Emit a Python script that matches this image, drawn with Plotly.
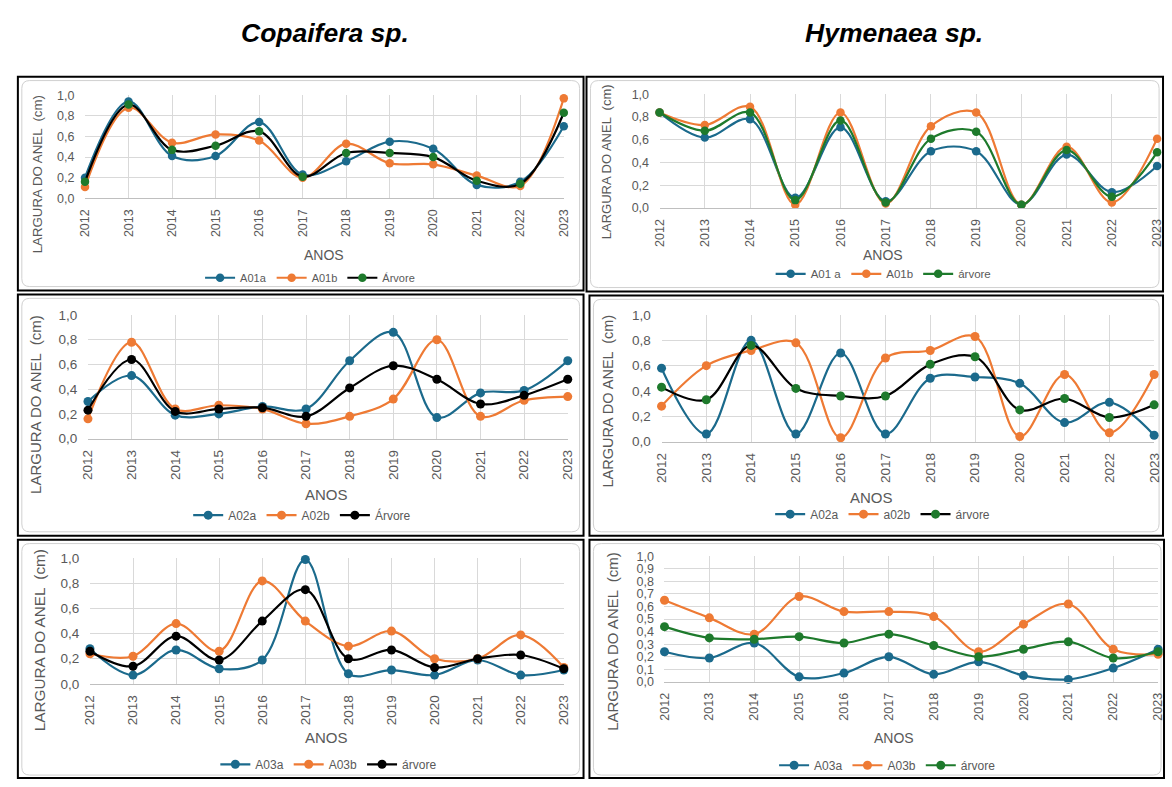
import plotly.graph_objects as go

# ---------------- data ----------------
YEARS = [2012, 2013, 2014, 2015, 2016, 2017, 2018, 2019, 2020, 2021, 2022, 2023]
YEAR_LABELS = [str(y) for y in YEARS]

Y_TICKS_STEP02 = [0.0, 0.2, 0.4, 0.6, 0.8, 1.0]
Y_TICKTEXT_STEP02 = ["0,0", "0,2", "0,4", "0,6", "0,8", "1,0"]
Y_TICKS_STEP01 = [0.0, 0.1, 0.2, 0.3, 0.4, 0.5, 0.6, 0.7, 0.8, 0.9, 1.0]
Y_TICKTEXT_STEP01 = ["0,0", "0,1", "0,2", "0,3", "0,4", "0,5", "0,6", "0,7", "0,8", "0,9", "1,0"]

SPECIES = ["Copaifera sp.", "Hymenaea sp."]
X_TITLE = "ANOS"
Y_TITLE = "LARGURA DO ANEL  (cm)"

# Copaifera - tree 01
cop_a01a = [0.20, 0.94, 0.41, 0.41, 0.74, 0.23, 0.36, 0.55, 0.48, 0.13, 0.16, 0.70]
cop_a01b = [0.11, 0.88, 0.54, 0.62, 0.56, 0.20, 0.53, 0.34, 0.33, 0.22, 0.12, 0.97]
cop_a01_tree = [0.16, 0.91, 0.47, 0.51, 0.65, 0.21, 0.44, 0.44, 0.40, 0.17, 0.14, 0.83]
# Hymenaea - tree 01
hym_a01a = [0.84, 0.62, 0.78, 0.09, 0.71, 0.06, 0.50, 0.50, 0.03, 0.47, 0.14, 0.37]
hym_a01b = [0.84, 0.73, 0.89, 0.03, 0.84, 0.04, 0.72, 0.84, 0.03, 0.54, 0.05, 0.61]
hym_a01_tree = [0.84, 0.68, 0.84, 0.07, 0.77, 0.05, 0.61, 0.67, 0.03, 0.51, 0.10, 0.49]
# Copaifera - tree 02
cop_a02a = [0.30, 0.51, 0.19, 0.20, 0.26, 0.24, 0.63, 0.86, 0.17, 0.37, 0.39, 0.63]
cop_a02b = [0.16, 0.78, 0.24, 0.27, 0.24, 0.12, 0.18, 0.32, 0.80, 0.18, 0.31, 0.34]
cop_a02_tree = [0.23, 0.64, 0.22, 0.24, 0.25, 0.18, 0.41, 0.59, 0.48, 0.28, 0.35, 0.48]
# Hymenaea - tree 02
hym_a02a = [0.58, 0.06, 0.80, 0.06, 0.70, 0.06, 0.50, 0.51, 0.46, 0.15, 0.31, 0.05]
hym_a02b = [0.28, 0.60, 0.72, 0.78, 0.03, 0.66, 0.72, 0.83, 0.04, 0.53, 0.07, 0.53]
hym_a02_tree = [0.43, 0.33, 0.76, 0.42, 0.36, 0.36, 0.61, 0.67, 0.25, 0.34, 0.19, 0.29]
# Copaifera - tree 03
cop_a03a = [0.28, 0.07, 0.27, 0.12, 0.19, 0.99, 0.08, 0.11, 0.07, 0.19, 0.07, 0.11]
cop_a03b = [0.24, 0.22, 0.48, 0.26, 0.82, 0.50, 0.30, 0.42, 0.20, 0.20, 0.39, 0.13]
cop_a03_tree = [0.26, 0.14, 0.38, 0.19, 0.50, 0.75, 0.20, 0.27, 0.13, 0.20, 0.23, 0.12]
# Hymenaea - tree 03
hym_a03a = [0.24, 0.19, 0.31, 0.04, 0.07, 0.20, 0.06, 0.16, 0.05, 0.02, 0.11, 0.26]
hym_a03b = [0.65, 0.51, 0.38, 0.68, 0.56, 0.56, 0.52, 0.24, 0.46, 0.62, 0.26, 0.22]
hym_a03_tree = [0.44, 0.35, 0.34, 0.36, 0.31, 0.38, 0.29, 0.20, 0.26, 0.32, 0.19, 0.24]

# ---------------- style ----------------
W, H = 1172, 787
BLUE = "#1B6A8C"
ORANGE = "#EE7A34"
GREEN = "#1E7A2C"
BLACK = "#000000"
GRID = "#D9D9D9"
TXT = "#595959"
FONT = "Liberation Sans, Arial, sans-serif"


def px_x(v):
    return v / W


def px_y(v):
    return 1 - v / H


def cx(v):
    return min(max(v, 1), W - 1)


def cy(v):
    return min(max(v, 1), H - 1)


panels = [
    dict(series=[("A01a", cop_a01a, BLUE, BLUE), ("A01b", cop_a01b, ORANGE, ORANGE),
                 ("Árvore", cop_a01_tree, BLACK, GREEN)],
         plot=(78, 563, 90, 195), box=(10, 583, 71, 289), ticks="02",
         ytitle=(30, 171, 13.3), xtitle=(320, 253), legend=(306, 276),
         tick_fs=12.5, leg_fs=11, msize=8.5),
    dict(series=[("A01 a", hym_a01a, BLUE, BLUE), ("A01b", hym_a01b, ORANGE, ORANGE),
                 ("árvore", hym_a01_tree, GREEN, GREEN)],
         plot=(660, 1164, 89, 205), box=(586, 1170, 71, 290), ticks="02",
         ytitle=(607, 158, 13), xtitle=(886, 253), legend=(887, 272),
         tick_fs=12.5, leg_fs=11.5, msize=8.5),
    dict(series=[("A02a", cop_a02a, BLUE, BLUE), ("A02b", cop_a02b, ORANGE, ORANGE),
                 ("Árvore", cop_a02_tree, BLACK, BLACK)],
         plot=(81, 567, 314, 440), box=(10, 583, 293, 539), ticks="02",
         ytitle=(28, 405, 15), xtitle=(323, 497), legend=(298, 518),
         tick_fs=13.5, leg_fs=12, msize=9),
    dict(series=[("A02a", hym_a02a, BLUE, BLUE), ("a02b", hym_a02b, ORANGE, ORANGE),
                 ("árvore", hym_a02_tree, BLACK, GREEN)],
         plot=(662, 1161, 314, 443), box=(589, 1170, 294, 539), ticks="02",
         ytitle=(608, 402, 14.5), xtitle=(875, 500), legend=(886, 517),
         tick_fs=13.5, leg_fs=12, msize=9),
    dict(series=[("A03a", cop_a03a, BLUE, BLUE), ("A03b", cop_a03b, ORANGE, ORANGE),
                 ("árvore", cop_a03_tree, BLACK, BLACK)],
         plot=(83, 563, 562, 690), box=(10, 583, 543, 787), ticks="02",
         ytitle=(32, 646, 15.3), xtitle=(323, 745), legend=(325, 772),
         tick_fs=13.5, leg_fs=12, msize=9),
    dict(series=[("A03a", hym_a03a, BLUE, BLUE), ("A03b", hym_a03b, ORANGE, ORANGE),
                 ("árvore", hym_a03_tree, GREEN, GREEN)],
         plot=(665, 1165, 560, 688), box=(589, 1172, 543, 787), ticks="01",
         ytitle=(613, 647, 15), xtitle=(897, 745), legend=(891, 773),
         tick_fs=12.5, leg_fs=12, msize=9),
]

fig = go.Figure()
layout = dict(width=W, height=H, autosize=False, margin=dict(l=0, r=0, t=0, b=0, pad=0),
              paper_bgcolor="white", plot_bgcolor="white",
              font=dict(family=FONT, color=TXT), showlegend=True)
annotations = []
shapes = []

for i, p in enumerate(panels):
    n = i + 1
    xa = "xaxis" if n == 1 else f"xaxis{n}"
    ya = "yaxis" if n == 1 else f"yaxis{n}"
    xr = "x" if n == 1 else f"x{n}"
    yr = "y" if n == 1 else f"y{n}"
    lg = "legend" if n == 1 else f"legend{n}"
    x0, x1, yt, yb = p["plot"]
    for name, vals, lc, mc in p["series"]:
        fig.add_trace(go.Scatter(
            x=YEARS, y=vals, name=name, mode="lines+markers",
            line=dict(color=lc, width=2.2, shape="spline", smoothing=1.0),
            marker=dict(color=mc, size=p["msize"]),
            xaxis=xr, yaxis=yr, legend=lg, cliponaxis=False))
    tv, tt = (Y_TICKS_STEP02, Y_TICKTEXT_STEP02) if p["ticks"] == "02" else (Y_TICKS_STEP01, Y_TICKTEXT_STEP01)
    layout[xa] = dict(domain=[px_x(x0), px_x(x1)], anchor=yr, range=[YEARS[0], YEARS[-1]],
                      tickvals=YEARS, ticktext=YEAR_LABELS, tickangle=-90,
                      showgrid=True, gridcolor=GRID, gridwidth=1,
                      showline=True, linecolor="#BFBFBF", linewidth=1, zeroline=False,
                      ticks="outside", ticklen=5, tickcolor="rgba(0,0,0,0)",
                      tickfont=dict(size=p["tick_fs"], color=TXT, family=FONT), fixedrange=True)
    layout[ya] = dict(domain=[px_y(yb), px_y(yt)], anchor=xr, range=[0, 1],
                      tickvals=tv, ticktext=tt, showgrid=True, gridcolor=GRID, gridwidth=1,
                      showline=False, zeroline=False,
                      ticks="outside", ticklen=7, tickcolor="rgba(0,0,0,0)",
                      tickfont=dict(size=p["tick_fs"], color=TXT, family=FONT), fixedrange=True)
    lx, ly = p["legend"]
    layout[lg] = dict(orientation="h", x=px_x(lx), y=px_y(ly), xanchor="center", yanchor="middle",
                      font=dict(size=p["leg_fs"], color=TXT, family=FONT),
                      bgcolor="rgba(0,0,0,0)", itemwidth=30, tracegroupgap=0)
    tx, ty, tfs = p["ytitle"]
    annotations.append(dict(text=Y_TITLE, x=px_x(tx), y=px_y(ty), xref="paper", yref="paper",
                            showarrow=False, textangle=-90, xanchor="center", yanchor="middle",
                            font=dict(size=tfs, color=TXT, family=FONT)))
    ax, ay = p["xtitle"]
    annotations.append(dict(text=X_TITLE, x=px_x(ax), y=px_y(ay), xref="paper", yref="paper",
                            showarrow=False, xanchor="center", yanchor="middle",
                            font=dict(size=p["tick_fs"] + 1.5, color=TXT, family=FONT)))
    bx0, bx1, by0, by1 = p["box"]
    # inner rounded light border
    ix0, ix1 = px_x(cx(bx0 + 4)), px_x(cx(bx1 - 4))
    iy0, iy1 = px_y(cy(by0 + 4)), px_y(cy(by1 - 4))
    rx, ry = 8 / W, 8 / H
    path = (f"M {ix0 + rx},{iy0} L {ix1 - rx},{iy0} Q {ix1},{iy0} {ix1},{iy0 - ry} "
            f"L {ix1},{iy1 + ry} Q {ix1},{iy1} {ix1 - rx},{iy1} L {ix0 + rx},{iy1} "
            f"Q {ix0},{iy1} {ix0},{iy1 + ry} L {ix0},{iy0 - ry} Q {ix0},{iy0} {ix0 + rx},{iy0} Z")
    shapes.append(dict(type="path", path=path, xref="paper", yref="paper",
                       line=dict(color="#D0D0D0", width=1), layer="below"))
    shapes.append(dict(type="rect", x0=px_x(cx(bx0)), x1=px_x(cx(bx1)),
                       y0=px_y(cy(by1)), y1=px_y(cy(by0)),
                       xref="paper", yref="paper", line=dict(color=BLACK, width=2), layer="above"))

for name, sx in zip(SPECIES, [321, 897]):
    annotations.append(dict(text=f"<b><i>{name}</i></b>", x=px_x(sx), y=px_y(26), xref="paper", yref="paper",
                            showarrow=False, xanchor="center", yanchor="middle",
                            font=dict(size=26.5, color=BLACK, family=FONT)))

layout["annotations"] = annotations
layout["shapes"] = shapes
fig.update_layout(**layout)

fig.write_html("out.html", config={"displayModeBar": False},
               post_script="document.body.style.margin='0';document.body.style.overflow='hidden';")
